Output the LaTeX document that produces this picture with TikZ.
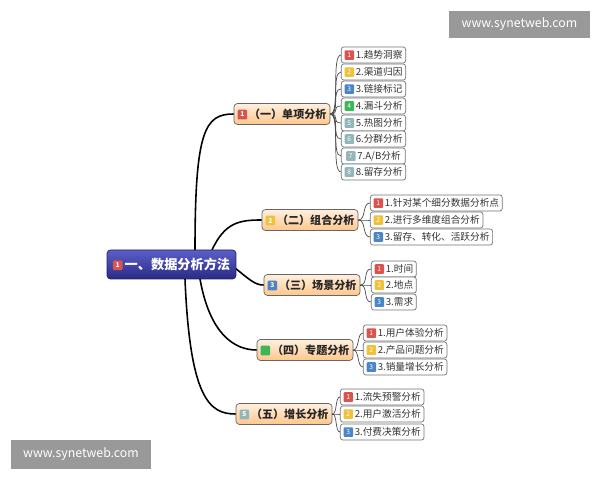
\documentclass[tikz,border=0pt]{standalone}
\usepackage{fontspec}
\setmainfont{Noto Sans CJK SC}
\usetikzlibrary{calc}
\definecolor{bR}{HTML}{D9534F}\definecolor{bY}{HTML}{EEC23A}\definecolor{bB}{HTML}{4A86C5}
\definecolor{bG}{HTML}{3DB55A}\definecolor{bT}{HTML}{93B7B9}
\definecolor{rootT}{HTML}{5A5FC8}\definecolor{rootB}{HTML}{2A2A86}
\newcommand{\bd}[2]{\tikz[baseline=-0.6ex]\node[fill=#1,rounded corners=0.6pt,inner sep=0pt,minimum size=5.5pt,text=white,font=\fontsize{3.8}{3.8}\selectfont]{#2};\,}
\begin{document}
\begin{tikzpicture}[x=0.02cm,y=-0.02cm,
 leaf/.style={draw=black!55,fill=white,rounded corners=1.5pt,anchor=west,minimum height=15*0.02cm,inner sep=1.8pt,font=\fontsize{5.5}{6}\selectfont,text=black!80},
 br/.style={draw=black!60,rounded corners=2pt,top color=orange!12,bottom color=orange!45,minimum height=21*0.02cm,inner sep=2pt,font=\bfseries\fontsize{6.3}{7}\selectfont,text=black!85},
 ln/.style={black,line width=0.9pt},
 thin/.style={black!70,line width=0.4pt},
 wm/.style={fill=black!40,text=white,inner sep=0pt,font=\fontsize{7}{8}\selectfont}]
\useasboundingbox (0,0) rectangle (600,480);
\node[wm,minimum width=141*0.02cm,minimum height=27*0.02cm] (w1) at (519.5,24.5) {www.synetweb.com};
\node[wm,minimum width=140*0.02cm,minimum height=29*0.02cm] (w2) at (81,454.5) {www.synetweb.com};
\node[br,minimum width=90*0.02cm] (b1) at (282,114) {\bd{bR}{1}（一）单项分析};
\node[br,minimum width=89*0.02cm] (b2) at (310,220) {\bd{bY}{2}（二）组合分析};
\node[br,minimum width=90*0.02cm] (b3) at (312,285) {\bd{bB}{3}（三）场景分析};
\node[br,minimum width=91*0.02cm] (b4) at (305,350) {\bd{bG}{\,}（四）专题分析};
\node[br,minimum width=94*0.02cm] (b5) at (284,414) {\bd{bT}{5}（五）增长分析};
\coordinate (r1) at (195,250);\coordinate (r2) at (212,250);\coordinate (r3) at (235,268);
\coordinate (r4) at (200,279);\coordinate (r5) at (185,279);
\draw[ln] (r1) .. controls (195,130) and (205,114) .. (b1.west);
\draw[ln] (r2) .. controls (225,222) and (240,220) .. (b2.west);
\draw[ln] (r3) .. controls (250,280) and (255,285) .. (b3.west);
\draw[ln] (r4) .. controls (210,335) and (235,350) .. (b4.west);
\draw[ln] (r5) .. controls (190,400) and (210,414) .. (b5.west);
\node[draw=rootB!80!black,rounded corners=2pt,top color=rootT,bottom color=rootB,minimum width=127*0.02cm,minimum height=29*0.02cm,text=white,font=\bfseries\fontsize{7.5}{8}\selectfont] (root) at (171.5,264.5) {\bd{bR}{1}一、数据分析方法};
\foreach \t/\c/\n/\y [count=\i] in {1.趋势洞察/bR/1/55,2.渠道归因/bY/2/72,3.链接标记/bB/3/89,4.漏斗分析/bG/4/106,5.热图分析/bT/5/123,6.分群分析/bT/6/139,{7.A/B分析}/bT/7/156,8.留存分析/bT/8/172}{
 \node[leaf,minimum width=64*0.02cm] (l1\i) at (341,\y) {\bd{\c}{\n}\t};
 \draw[thin] (b1.east) .. controls ($(b1.east)+(10,0)$) and ($(l1\i.west)+(-10,0)$) .. (l1\i.west);}
\foreach \t/\c/\n/\y [count=\i] in {1.针对某个细分数据分析点/bR/1/203,2.进行多维度组合分析/bY/2/220,3.留存、转化、活跃分析/bB/3/237}{
 \node[leaf] (l2\i) at (370,\y) {\bd{\c}{\n}\t};
 \draw[thin] (b2.east) .. controls ($(b2.east)+(8,0)$) and ($(l2\i.west)+(-8,0)$) .. (l2\i.west);}
\foreach \t/\c/\n/\y [count=\i] in {1.时间/bR/1/269,2.地点/bY/2/285,3.需求/bB/3/302}{
 \node[leaf] (l3\i) at (371,\y) {\bd{\c}{\n}\t};
 \draw[thin] (b3.east) .. controls ($(b3.east)+(8,0)$) and ($(l3\i.west)+(-8,0)$) .. (l3\i.west);}
\foreach \t/\c/\n/\y [count=\i] in {1.用户体验分析/bR/1/333,2.产品问题分析/bY/2/350,3.销量增长分析/bB/3/367}{
 \node[leaf] (l4\i) at (363,\y) {\bd{\c}{\n}\t};
 \draw[thin] (b4.east) .. controls ($(b4.east)+(6,0)$) and ($(l4\i.west)+(-6,0)$) .. (l4\i.west);}
\foreach \t/\c/\n/\y [count=\i] in {1.流失预警分析/bR/1/397,2.用户激活分析/bY/2/414,3.付费决策分析/bB/3/432}{
 \node[leaf] (l5\i) at (340,\y) {\bd{\c}{\n}\t};
 \draw[thin] (b5.east) .. controls ($(b5.east)+(5,0)$) and ($(l5\i.west)+(-5,0)$) .. (l5\i.west);}
\end{tikzpicture}
\end{document}
